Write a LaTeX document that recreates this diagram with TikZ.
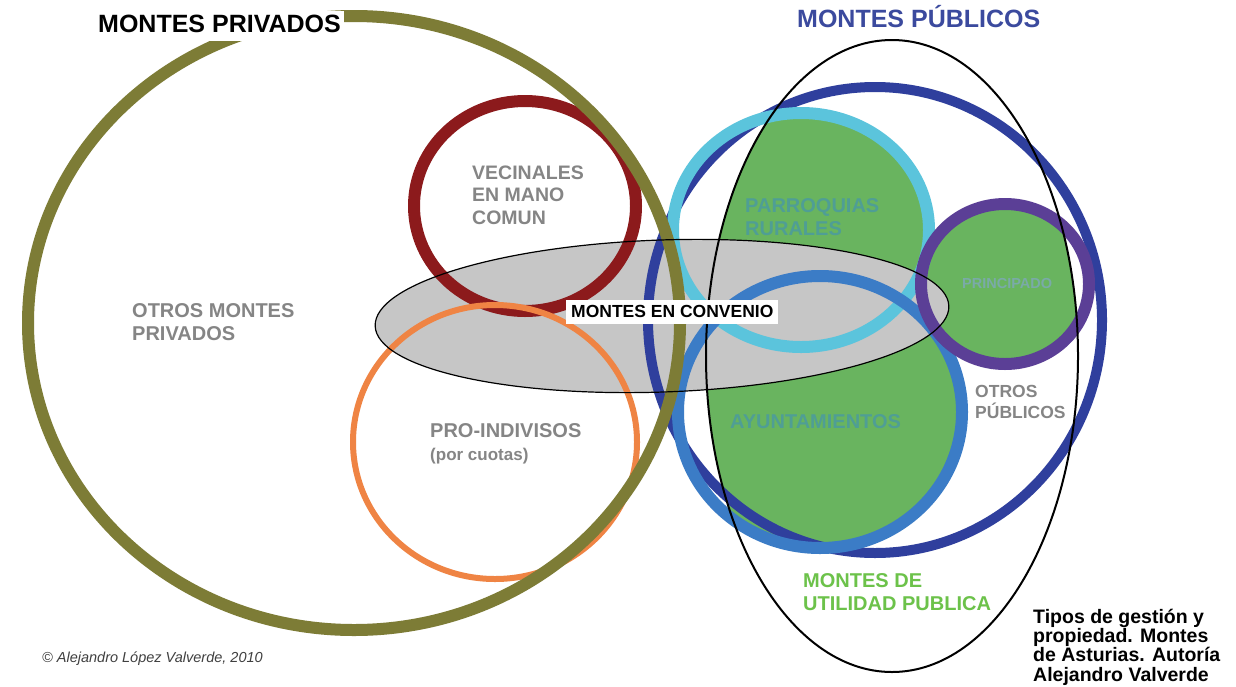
\documentclass[tikz,border=0pt]{standalone}
\usepackage{fontspec}
\setmainfont{Liberation Sans}
\definecolor{olive}{HTML}{7D7C36}
\definecolor{wine}{HTML}{8C1A1C}
\definecolor{peach}{HTML}{EF8444}
\definecolor{navy}{HTML}{2F3F9D}
\definecolor{sky}{HTML}{5BC4DC}
\definecolor{midblue}{HTML}{3B7CC6}
\definecolor{violet}{HTML}{5B3F96}
\definecolor{leaf}{HTML}{69B45F}
\definecolor{haze}{HTML}{C6C6C6}
\definecolor{titleblue}{HTML}{3B4A9E}
\definecolor{labelgray}{HTML}{858585}
\definecolor{teal}{HTML}{4F9E95}
\definecolor{paleteal}{HTML}{7AAAA8}
\definecolor{brightgreen}{HTML}{6CC24A}
\begin{document}
\begin{tikzpicture}[x=1pt,y=-1pt,
  ring/.style={draw, line width=12pt},
  lbl/.style={anchor=base west, inner sep=0pt, align=left, font=\bfseries\fontsize{20}{23}\selectfont},
  heading/.style={anchor=base west, font=\bfseries\fontsize{25}{29}\selectfont}]
\useasboundingbox (0,0) rectangle (1236,686);
\fill[white] (0,0) rectangle (1236,686);

% green areas: public forests of public utility
\begin{scope}
  \clip (892,356) ellipse [x radius=186pt, y radius=316pt];
  \fill[leaf] (801,230) ellipse [x radius=128pt, y radius=117pt]
              (820,412) ellipse [x radius=142pt, y radius=136pt]
              (1005,284) ellipse [x radius=84pt, y radius=80pt];
\end{scope}

% agreement forests
\fill[haze, rotate around={2:(662,316)}] (662,316) ellipse [x radius=287pt, y radius=76pt];

% rings
\draw[ring, navy, line width=10pt] (875,320) ellipse [x radius=227pt, y radius=233pt];
\draw[ring, sky] (801,230) ellipse [x radius=128pt, y radius=117pt];
\draw[ring, midblue] (820,412) ellipse [x radius=142pt, y radius=136pt];
\draw[ring, violet] (1005,284) ellipse [x radius=84pt, y radius=80pt];
\draw[ring, wine] (525,206) ellipse [x radius=111pt, y radius=105pt];
\draw[ring, peach, line width=6pt] (495,442) ellipse [x radius=142pt, y radius=137pt];
\draw[ring, olive] (354,323) ellipse [x radius=326pt, y radius=307pt];

% outlines
\draw[black, line width=1.2pt, rotate around={2:(662,316)}] (662,316) ellipse [x radius=287pt, y radius=76pt];
\draw[black, line width=2pt] (892,356) ellipse [x radius=186pt, y radius=316pt];

% headings
\node[heading, fill=white, inner xsep=3pt, inner ysep=4pt, text depth=5pt] (privados) at (95,32) {MONTES PRIVADOS};
\node[heading, titleblue, inner sep=0pt] (publicos) at (797,27) {MONTES PÚBLICOS};

% labels (anchored at the baseline of their last line)
\node[lbl, labelgray, font=\bfseries\fontsize{19.5}{22.5}\selectfont] (vecinales) at (472,224) {VECINALES\\EN MANO\\COMUN};
\node[lbl, labelgray] (otrosprivados) at (132,340) {OTROS MONTES\\PRIVADOS};
\node[lbl, labelgray] (proindivisos) at (430,460) {PRO-INDIVISOS\\{\fontsize{17}{20}\selectfont(por cuotas)}};
\node[lbl, teal] (parroquias) at (745,235) {PARROQUIAS\\RURALES};
\node[lbl, paleteal, font=\bfseries\fontsize{14.5}{16}\selectfont] (principado) at (962,288) {PRINCIPADO};
\node[lbl, teal] (ayuntamientos) at (730,428) {AYUNTAMIENTOS};
\node[lbl, labelgray, font=\bfseries\fontsize{17.5}{21}\selectfont] (otrospublicos) at (975,418) {OTROS\\PÚBLICOS};
\node[lbl, brightgreen] (utilidad) at (803,610) {MONTES DE\\UTILIDAD PUBLICA};
\node[anchor=base west, fill=white, inner xsep=5pt, inner ysep=5pt, text depth=2pt,
      font=\bfseries\fontsize{17.5}{20}\selectfont] (convenio) at (566,317) {MONTES EN CONVENIO};

% credits
\node[anchor=base west, inner sep=0pt, text=black!75, font=\itshape\fontsize{14.5}{16}\selectfont] (copyright) at (42,662) {© Alejandro López Valverde, 2010};
\node[anchor=base west, inner sep=0pt, align=left, font=\bfseries\fontsize{19.5}{19.2}\selectfont] (caption) at (1033,681)
  {Tipos de gestión y\\propiedad. Montes\\de Asturias. Autoría\\Alejandro Valverde};
\end{tikzpicture}
\end{document}
